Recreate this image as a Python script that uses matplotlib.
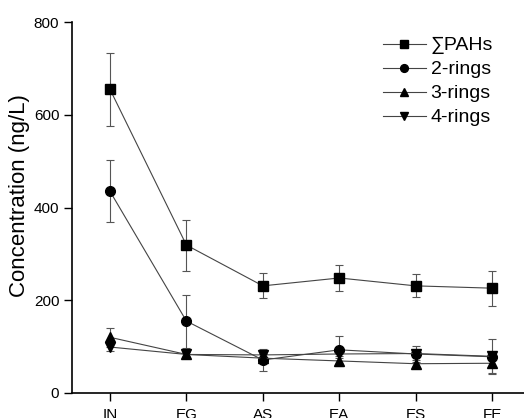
import matplotlib
matplotlib.use("Agg")
import matplotlib.pyplot as plt

plt.rcParams['font.family'] = ['Liberation Sans', 'DejaVu Sans']

sites = ["IN", "EG", "AS", "EA", "ES", "FE"]
total = [655, 319, 231, 248, 231, 226]
total_err = [78, 55, 27, 28, 25, 38]
ring2 = [435, 155, 71, 93, 84, 78]
ring2_err = [67, 57, 24, 30, 17, 38]
ring3 = [120, 83, 75, 69, 63, 64]
ring3_err = [20, 8, 10, 10, 8, 20]
ring4 = [99, 83, 82, 84, 85, 79]
ring4_err = [8, 6, 10, 8, 8, 8]

fig = plt.figure(figsize=(5.24, 4.18), dpi=100)
ax = fig.add_axes([0.137, 0.06, 0.875, 0.887])
x = list(range(len(sites)))

series = [
    (total, total_err, 's', "\u2211PAHs"),
    (ring2, ring2_err, 'o', "2-rings"),
    (ring3, ring3_err, '^', "3-rings"),
    (ring4, ring4_err, 'v', "4-rings"),
]
handles = []
for vals, errs, m, lab in series:
    c = ax.errorbar(x, vals, yerr=errs, fmt='-', marker=m, color='#444444',
                    mfc='black', mec='black', ms=7, lw=0.8,
                    ecolor='#555555', elinewidth=0.8, capsize=3, capthick=0.8,
                    label=lab)
    handles.append(c[0])

ax.set_xlim(-0.5, 5.5)
ax.set_ylim(0, 800)
ax.set_yticks([0, 200, 400, 600, 800])
ax.set_xticks(x)
ax.set_xticklabels(sites)
ax.spines['top'].set_visible(False)
ax.spines['right'].set_visible(False)
ax.spines['left'].set_linewidth(1.2)
ax.spines['bottom'].set_linewidth(1.2)
ax.tick_params(direction='out', length=6, width=1, labelsize=11)
ax.tick_params(axis='x', pad=4.5)
ax.tick_params(axis='y', pad=3)
ax.set_ylabel("Concentration (ng/L)", fontsize=16)
ax.yaxis.set_label_coords(-0.091, 0.531)

leg = fig.legend(handles, [s[3] for s in series], loc='upper left',
                 bbox_to_anchor=(0.731, 0.912), frameon=False,
                 fontsize=14, handlelength=2.2, handletextpad=0.25,
                 labelspacing=0.33, markerscale=0.8, borderpad=0,
                 borderaxespad=0)

fig.savefig("out.png", dpi=100)
